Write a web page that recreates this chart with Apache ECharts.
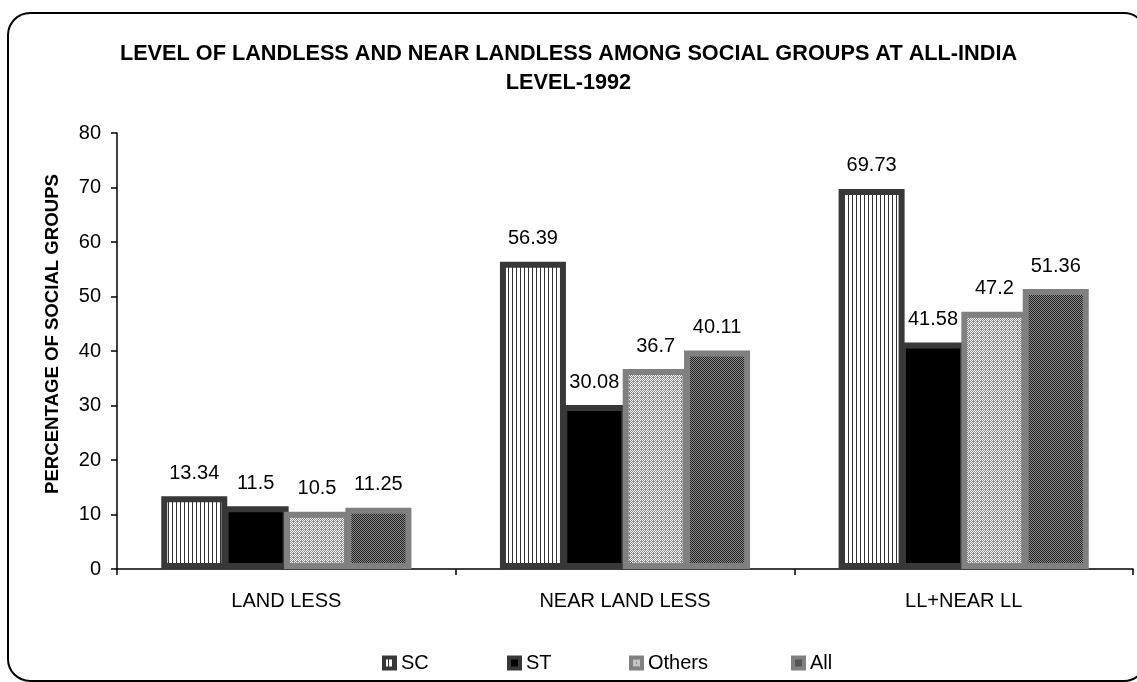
<!DOCTYPE html>
<html>
<head>
<meta charset="utf-8">
<script src="https://cdn.jsdelivr.net/npm/echarts@6/dist/echarts.min.js"></script>
<style>
html,body{margin:0;padding:0;background:#fff;}
#main{width:1137px;height:682px;}
</style>
</head>
<body>
<div id="main"></div>
<script>
var categories = ['LAND LESS', 'NEAR LAND LESS', 'LL+NEAR LL'];
var seriesNames = ['SC', 'ST', 'Others', 'All'];
var scValues = [13.34, 56.39, 69.73];
var stValues = [11.5, 30.08, 41.58];
var othersValues = [10.5, 36.7, 47.2];
var allValues = [11.25, 40.11, 51.36];
var yTicks = [0, 10, 20, 30, 40, 50, 60, 70, 80];

function makePattern(w, h, bg, fg, pts) {
  var c = document.createElement('canvas');
  c.width = w; c.height = h;
  var ctx = c.getContext('2d');
  ctx.fillStyle = bg; ctx.fillRect(0, 0, w, h);
  ctx.fillStyle = fg;
  pts.forEach(function (p) { ctx.fillRect(p[0], p[1], 1, 1); });
  return { image: c, repeat: 'repeat' };
}
// SC: vertical lines on white
var scFill = makePattern(4, 1, '#ffffff', '#333333', [[0, 0]]);
// Others: light crosshatch
var othersFill = makePattern(4, 4, '#ffffff', '#8a8a8a', [[1,0],[3,0],[0,1],[2,1],[1,2],[3,2],[2,3],[0,3],[1,1]]);
// All: dark checker
var allFill = makePattern(2, 2, '#1e1e1e', '#8c8c8c', [[1,0],[0,1]]);

var FONT = '"Liberation Sans", Arial, sans-serif';

function barSeries(name, data, fill, border) {
  return {
    name: name,
    type: 'bar',
    data: data,
    barWidth: 66,
    barGap: '-7%',
    itemStyle: { color: fill, borderColor: border, borderWidth: 6 },
    label: {
      show: true, position: 'top', distance: 13,
      color: '#000', fontSize: 20, fontFamily: FONT
    }
  };
}

var legendPos = [377, 502, 624, 786];
var legends = seriesNames.map(function (n, i) {
  return {
    data: [n], left: legendPos[i], top: 648,
    itemWidth: 11, itemHeight: 11, itemGap: 9,
    icon: 'rect',
    itemStyle: { borderWidth: 4 },
    textStyle: { fontSize: 20, fontFamily: FONT, color: '#000', padding: [0,0,0,1] }
  };
});

var chart = echarts.init(document.getElementById('main'));
chart.setOption({
  animation: false,
  backgroundColor: '#fff',
  title: {
    text: 'LEVEL OF LANDLESS AND NEAR LANDLESS AMONG SOCIAL GROUPS AT ALL-INDIA\nLEVEL-1992',
    left: 'center', top: 35,
    textStyle: { fontSize: 21.7, fontWeight: 'bold', fontFamily: FONT, color: '#000', lineHeight: 29 }
  },
  graphic: [{
    type: 'rect', silent: true, z: -1,
    shape: { x: 8, y: 13, width: 1138, height: 668, r: 22 },
    style: { fill: 'none', stroke: '#000', lineWidth: 2 }
  }],
  legend: legends,
  grid: { left: 117, right: 4, top: 133, bottom: 113, containLabel: false },
  xAxis: {
    type: 'category', data: categories,
    axisLine: { lineStyle: { color: '#000', width: 1.5 } },
    axisTick: { show: true, length: 6, lineStyle: { color: '#000', width: 1.5 } },
    axisLabel: { color: '#000', fontSize: 20, fontFamily: FONT, margin: 22 }
  },
  yAxis: {
    type: 'value', min: yTicks[0], max: yTicks[yTicks.length - 1], interval: 10,
    name: 'PERCENTAGE OF SOCIAL GROUPS', nameLocation: 'middle', nameGap: 55,
    nameTextStyle: { fontSize: 18.6, fontWeight: 'bold', fontFamily: FONT, color: '#000', padding: [0, 0, 0, 34] },
    axisLine: { show: true, lineStyle: { color: '#000', width: 1.5 } },
    axisTick: { show: true, length: 6, lineStyle: { color: '#000', width: 1.5 } },
    splitLine: { show: false },
    axisLabel: { color: '#000', fontSize: 20, fontFamily: FONT, margin: 16 }
  },
  series: [
    barSeries('SC', scValues, scFill, '#383838'),
    barSeries('ST', stValues, '#000000', '#383838'),
    barSeries('Others', othersValues, othersFill, '#808080'),
    barSeries('All', allValues, allFill, '#808080')
  ]
});
</script>
</body>
</html>
